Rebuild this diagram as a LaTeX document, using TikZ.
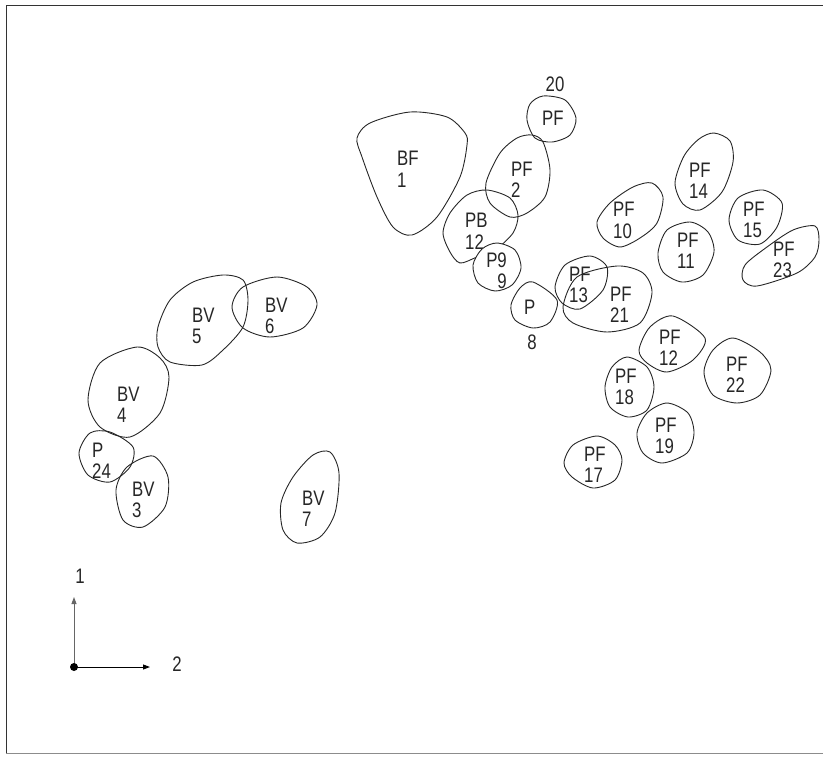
\documentclass[tikz,border=0pt]{standalone}
\usepackage{fontspec}
\setmainfont{Liberation Sans}[FakeStretch=0.80]
\usetikzlibrary{arrows.meta}
\tikzset{
  blob/.style={draw=black!85, line width=0.9pt},
  lab/.style={anchor=west, inner sep=0pt, align=left, font=\fontsize{21}{21.5}\selectfont, text=black!85},
  labr/.style={anchor=east, inner sep=0pt, align=right, font=\fontsize{21}{21.5}\selectfont, text=black!85},
  numlab/.style={inner sep=0pt, font=\fontsize{21}{21}\selectfont, text=black!85},
  frameline/.style={line width=0.9pt},
  axis/.style={line width=0.9pt, -{Triangle[length=7pt,width=5pt]}}
}
\begin{document}
\begin{tikzpicture}[x=1pt,y=-1pt]
\useasboundingbox (0,0) rectangle (823,756);
% frame
\draw[frameline, black!80] (823,5) -- (6,5) -- (6,753);
\draw[frameline, black!45] (6,753) -- (823,753);

% BF 1
\draw[blob] plot[smooth cycle] coordinates {(357,138) (370,123) (410,112) (447,117) (465,133) (467,145) (460,177) (437,217) (412,235) (393,227) (377,197) (362,157)};
\node[lab] (bf1) at (397,169.5) {BF\\1};

% PF 20
\draw[blob] plot[smooth cycle] coordinates {(543,96) (565,100) (576,118) (570,135) (552,142) (535,138) (527,120) (530,104)};
\node[lab] (pf20) at (542,118.5) {PF};
\node[numlab] (n20) at (555,84.5) {20};

% PF 2
\draw[blob] plot[smooth cycle] coordinates {(532,135) (543,142) (550,170) (545,197) (527,213) (510,217) (490,203) (486,183) (500,153) (517,138)};
\node[lab] (pf2) at (511,180) {PF\\2};

% PB 12
\draw[blob] plot[smooth cycle] coordinates {(487,190) (510,198) (518,215) (513,233) (495,250) (477,257) (460,263) (450,252) (443,233) (450,213) (467,195)};
\node[lab] (pb12) at (465,231.5) {PB\\12};

% P9 9
\draw[blob, fill=white] plot[smooth cycle] coordinates {(497,243) (515,250) (521,268) (512,285) (495,291) (478,283) (473,265) (482,249)};
\node[labr] (p9) at (507,271) {P9\\9};

% P 8
\draw[blob] plot[smooth cycle] coordinates {(533,282) (557,300) (550,322) (533,328) (515,320) (511,305) (520,288)};
\node[lab] (p8) at (524,307) {P};
\node[numlab] (n8) at (532,342) {8};

% PF 13
\draw[blob] plot[smooth cycle] coordinates {(590,256) (607,267) (603,290) (580,309) (562,303) (555,287) (565,265)};
\node[lab] (pf13) at (569,285) {PF\\13};

% PF 21
\draw[blob] plot[smooth cycle] coordinates {(617,266) (643,273) (652,293) (640,323) (607,332) (573,323) (563,307) (577,277)};
\node[lab] (pf21) at (610,305) {PF\\21};

% PF 10
\draw[blob] plot[smooth cycle] coordinates {(652,183) (663,197) (657,223) (640,238) (620,247) (603,238) (597,222) (610,203) (633,187)};
\node[lab] (pf10) at (613,220.5) {PF\\10};

% PF 14
\draw[blob] plot[smooth cycle] coordinates {(714,133) (730,141) (733,162) (722,192) (700,210) (683,204) (675,183) (684,156) (699,139)};
\node[lab] (pf14) at (689,181) {PF\\14};

% PF 11
\draw[blob] plot[smooth cycle] coordinates {(690,222) (708,232) (714,252) (703,275) (682,282) (663,272) (658,253) (667,230)};
\node[lab] (pf11) at (677,251) {PF\\11};

% PF 15
\draw[blob] plot[smooth cycle] coordinates {(763,190) (782,203) (777,227) (760,244) (738,240) (729,220) (738,198)};
\node[lab] (pf15) at (743,220) {PF\\15};

% PF 23
\draw[blob] plot[smooth cycle] coordinates {(815,226) (819,240) (815,257) (797,273) (757,286) (743,280) (745,265) (767,247) (793,230)};
\node[lab] (pf23) at (773,260) {PF\\23};

% PF 12
\draw[blob] plot[smooth cycle] coordinates {(673,316) (705,338) (693,360) (667,372) (647,363) (639,350) (650,327)};
\node[lab] (pf12) at (659,348) {PF\\12};

% PF 22
\draw[blob] plot[smooth cycle] coordinates {(733,338) (760,352) (771,370) (760,395) (737,403) (713,395) (704,372) (713,350)};
\node[lab] (pf22) at (726,375) {PF\\22};

% PF 18
\draw[blob] plot[smooth cycle] coordinates {(627,357) (647,367) (654,387) (647,410) (628,417) (610,407) (605,387) (612,367)};
\node[lab] (pf18) at (615,387) {PF\\18};

% PF 19
\draw[blob] plot[smooth cycle] coordinates {(667,403) (688,413) (694,433) (687,453) (662,463) (643,453) (637,433) (647,413)};
\node[lab] (pf19) at (655,436) {PF\\19};

% PF 17
\draw[blob] plot[smooth cycle] coordinates {(597,436) (615,445) (622,460) (615,480) (593,488) (572,477) (564,463) (573,445)};
\node[lab] (pf17) at (584,465) {PF\\17};

% BV 5
\draw[blob] plot[smooth cycle] coordinates {(223,275) (243,280) (248,300) (243,327) (223,350) (202,365) (170,362) (158,347) (158,327) (170,300) (193,282)};
\node[lab] (bv5) at (192,326) {BV\\5};

% BV 6
\draw[blob] plot[smooth cycle] coordinates {(277,277) (307,287) (317,305) (303,328) (270,337) (243,328) (232,307) (243,287)};
\node[lab] (bv6) at (265,316) {BV\\6};

% BV 4
\draw[blob] plot[smooth cycle] coordinates {(137,347) (160,358) (169,377) (160,413) (130,437) (100,427) (88,400) (100,363)};
\node[lab] (bv4) at (117,405) {BV\\4};

% P 24
\draw[blob] plot[smooth cycle] coordinates {(110,432) (133,447) (130,467) (110,482) (88,475) (79,453) (90,433)};
\node[lab] (p24) at (92,461) {P\\24};

% BV 3
\draw[blob] plot[smooth cycle] coordinates {(153,456) (168,477) (165,507) (143,527) (123,520) (116,490) (127,467)};
\node[lab] (bv3) at (132,500) {BV\\3};

% BV 7
\draw[blob] plot[smooth cycle] coordinates {(330,452) (339,473) (335,513) (320,537) (297,543) (283,530) (281,503) (293,477) (313,455)};
\node[lab] (bv7) at (302,509) {BV\\7};

% axes
\coordinate (o) at (74,667);
\coordinate (a1) at (74,597);
\coordinate (a2) at (150,667);
\draw[axis, black!60] (o) -- (a1);
\draw[axis, black] (o) -- (a2);
\fill[black] (o) circle (4);
\node[numlab] (l1) at (80,576) {1};
\node[numlab] (l2) at (177,664) {2};
\end{tikzpicture}
\end{document}
